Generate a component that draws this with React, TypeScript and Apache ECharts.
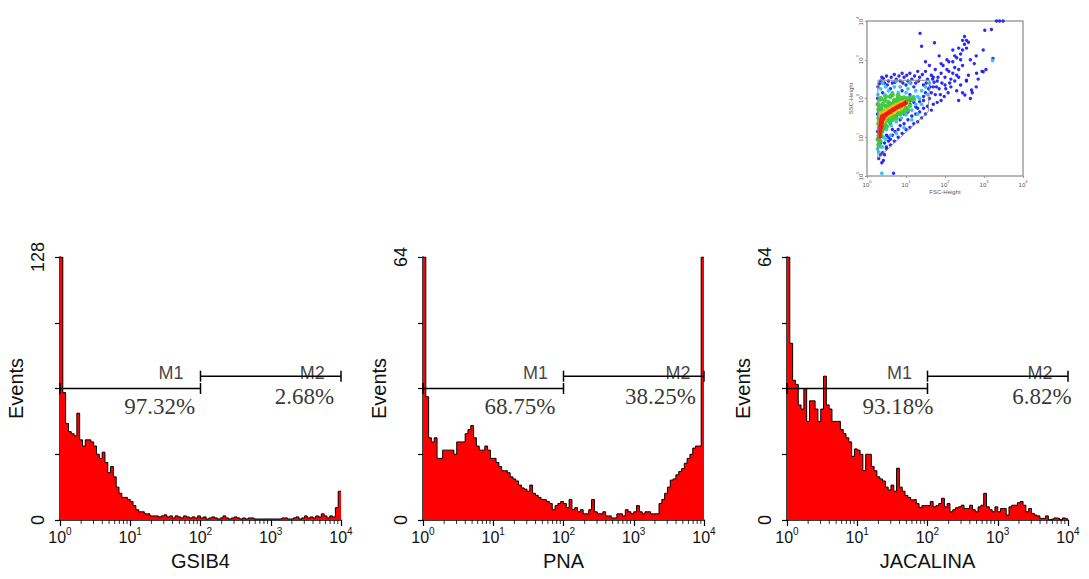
import React, { useEffect, useRef } from "react";
import * as echarts from "echarts";

// ---------- data ----------
const BIN_WIDTH = 0.04; // log10 units per histogram bin (25 bins per decade, 10^0 .. 10^4)
const DECADES = [0, 1, 2, 3, 4];
const MINOR_FACTORS = [2, 3, 4, 5, 6, 7, 8, 9];

const PANEL_NAMES = ["GSIB4", "PNA", "JACALINA"];
const Y_MAX = [128, 64, 64];

const GSIB4_COUNTS = [
  128, 62, 47, 43, 42, 41, 52, 39, 36, 39,
  39, 38, 36, 32, 30, 33, 28, 23, 26, 21,
  16, 13, 11, 11, 10, 9, 7, 5, 4, 4,
  3, 3, 2, 2, 2, 1.5, 2, 2.5, 1.5, 2,
  1, 2, 1.5, 1, 2, 1.5, 1, 1.5, 1, 2,
  1, 1.5, 0.5, 1, 1.5, 1, 0.5, 1, 2, 1,
  0.5, 1, 1.5, 1, 0.5, 1, 0.5, 1, 1, 0.5,
  0.5, 0.5, 0.5, 0.5, 0.5, 0.5, 0.5, 0.5, 0.5, 1,
  1, 0.5, 0.5, 1, 1.5, 0.5, 1, 2, 1, 1.5,
  1, 2, 1.5, 3, 2, 1, 2, 1.5, 6, 14,
];

const PNA_COUNTS = [
  64, 30, 20, 19, 20, 15, 15, 17, 17, 17,
  17, 16, 19, 19, 19, 21, 22, 23, 20, 18,
  17, 17, 18, 17, 15, 15, 14, 13, 12, 12,
  11.5, 10.5, 10, 9.5, 8.5, 7.8, 7.5, 7, 8.5, 6.5,
  6, 5.5, 5, 4.9, 4.5, 4, 2.5, 3.5, 4, 4.5,
  4, 3, 5, 2.5, 3, 2, 2.5, 1.5, 1.5, 2.5,
  5, 2, 1.5, 1.5, 2, 1, 1, 0.5, 0.5, 1.5,
  1.5, 1, 2.5, 2, 1.5, 2, 3.5, 2, 1.5, 2,
  2, 1.5, 1.5, 1.5, 4, 5, 6.5, 8, 9.7, 10,
  11, 11.8, 12.5, 13.8, 15, 16, 17.5, 18, 18, 64,
];

const JACALINA_COUNTS = [
  64, 43, 34, 33, 28, 27, 32, 24, 29, 29,
  27, 24, 27, 35, 28, 27, 24, 24, 24, 22,
  21, 20, 19, 15.5, 17.3, 17, 16, 12, 16, 16,
  13, 12, 10.5, 10, 9.5, 8, 7.3, 8.5, 7, 12.6,
  8, 7, 6, 5.5, 4.9, 5, 4, 3, 3.5, 3.5,
  3.5, 4.5, 3.2, 3.5, 4, 5.3, 3.2, 4, 2, 2.5,
  3, 3.2, 3.6, 2.8, 2.8, 3.6, 2.5, 2, 3.2, 3.6,
  6.5, 3.2, 2.5, 2, 3.2, 2, 2.8, 2.8, 1.2, 3.2,
  3.6, 3.6, 4.2, 4.5, 3.6, 2, 2.8, 1.6, 1.2, 1,
  0.4, 0.4, 1, 0, 0.2, 0.5, 0.4, 0, 0.5, 0.3,
];

const PANEL_COUNTS = [GSIB4_COUNTS, PNA_COUNTS, JACALINA_COUNTS];

// markers (log10 range, level in events)
const M1_RANGE = [0, 2];
const M2_RANGE = [2, 4];
const M1_LEVEL = [64, 32, 32];
const M2_LEVEL = [70, 35, 35];
const M1_PERCENT = ["97.32%", "68.75%", "93.18%"];
const M2_PERCENT = ["2.68%", "38.25%", "6.82%"];

// inset scatter (FSC-Height vs SSC-Height, log10 units)
const GATE_R1 = [
  [0.28, 2.47], [0.28, 0.46], [1.57, 1.66], [1.61, 2.47], [0.28, 2.47],
];
const PTS_BLUE = [
  [0.30, 0.45], [0.35, 0.55], [0.40, 0.60], [0.42, 0.40], [0.38, 0.34], [0.50, 0.75], [0.55, 0.90],
  [0.60, 0.95], [0.65, 1.05], [0.72, 1.15], [0.80, 1.20], [0.85, 1.30], [0.95, 1.35], [1.05, 1.45],
  [1.15, 1.55], [1.25, 1.60], [1.35, 1.65], [1.45, 1.75], [0.45, 0.85], [0.68, 0.07],
  [0.28, 2.30], [0.35, 2.45], [0.45, 2.40], [0.55, 2.45], [0.65, 2.40], [0.75, 2.50], [0.85, 2.45],
  [0.95, 2.55], [1.05, 2.45], [1.15, 2.50], [1.25, 2.40], [1.35, 2.55], [1.45, 2.35], [1.55, 2.50],
  [1.65, 2.60], [1.70, 2.30], [1.80, 2.45], [1.90, 2.65], [2.00, 2.55], [2.10, 2.70], [2.15, 2.50],
  [2.25, 2.80], [2.30, 2.60], [2.40, 3.00], [2.35, 2.75], [2.45, 2.85], [1.75, 2.75], [1.60, 2.85],
  [1.50, 2.95], [1.40, 3.35], [1.85, 3.10], [2.05, 3.00], [2.20, 3.25], [2.50, 3.40], [2.55, 3.30],
  [2.40, 2.35], [2.30, 2.20], [2.55, 2.45], [2.70, 2.15], [2.65, 2.00], [2.80, 2.30], [2.60, 2.60],
  [2.95, 2.70], [3.05, 2.75], [3.02, 3.76], [3.19, 3.78], [3.23, 3.03], [2.98, 3.25], [2.80, 3.10],
  [3.32, 4.0], [3.40, 4.0], [3.49, 4.0], [2.20, 2.95], [1.95, 2.85], [1.70, 2.55], [1.20, 2.30],
  [1.00, 2.35], [0.90, 2.20], [0.60, 2.25], [0.40, 2.15], [1.50, 2.15], [1.60, 2.00], [1.75, 2.10],
  [1.85, 2.25], [2.00, 2.35], [1.90, 1.95], [1.70, 1.85], [1.55, 1.80], [1.45, 1.95], [1.30, 1.75],
  [1.20, 1.90], [1.10, 2.10], [0.95, 1.60], [0.75, 1.55], [0.60, 1.35], [0.50, 1.05], [0.35, 0.85],
  [0.27, 1.15], [0.27, 1.60], [0.27, 2.00], [2.50, 3.60], [2.55, 3.50], [2.35, 3.30], [2.25, 3.10],
  [2.10, 2.95], [2.40, 3.15], [2.81, 2.65], [2.98, 2.69], [2.55, 2.47], [2.68, 2.22], [2.51, 2.09],
  [1.36, 3.68], [1.73, 3.44],
  [0.32, 2.38], [0.42, 2.52], [0.52, 2.35], [0.62, 2.55], [0.72, 2.42], [0.82, 2.58], [0.92, 2.40],
  [1.02, 2.60], [1.12, 2.40], [1.22, 2.58], [1.32, 2.45], [1.42, 2.62], [1.52, 2.40], [1.62, 2.30],
  [1.72, 2.42], [1.82, 2.55], [1.92, 2.40], [2.02, 2.25], [2.12, 2.40], [1.65, 2.15], [1.78, 2.30],
  [1.88, 2.10], [1.98, 2.05], [2.08, 2.15], [1.80, 1.90], [1.65, 1.70], [1.50, 1.60], [1.40, 1.50],
  [1.30, 1.40], [1.20, 1.35], [1.10, 1.25], [1.00, 1.20], [0.90, 1.10], [0.80, 1.00], [0.70, 0.90],
  [0.60, 0.80], [0.50, 0.70], [0.45, 0.55], [0.55, 1.00], [0.65, 1.20], [0.85, 1.45], [1.05, 1.65],
  [1.25, 1.78], [1.35, 1.92], [1.45, 2.05], [1.58, 2.25], [1.68, 2.50], [1.50, 2.70], [1.30, 2.70],
  [1.10, 2.65], [0.90, 2.65], [0.70, 2.62], [0.50, 2.58], [0.38, 2.55], [2.15, 2.30], [2.25, 2.45],
  [2.35, 2.55], [2.20, 2.65], [2.05, 2.75], [1.90, 2.90], [2.30, 3.05], [2.45, 3.25], [2.60, 3.45],
  [2.45, 3.50], [2.65, 3.00], [2.75, 2.90], [2.85, 2.50], [2.45, 2.15], [2.35, 1.95],
];
const PTS_CYAN = [
  [0.27, 0.70], [0.30, 0.62], [0.35, 0.75], [0.42, 1.00], [0.50, 1.20], [0.62, 1.30], [0.75, 1.40],
  [0.88, 1.50], [1.00, 1.58], [1.15, 1.70], [1.25, 1.85], [1.20, 2.05], [1.00, 2.15], [0.80, 2.15],
  [0.55, 2.20], [0.35, 2.25], [0.28, 2.10], [0.48, 2.30], [1.30, 2.05], [1.40, 2.20], [0.70, 2.30],
  [0.38, 0.07], [1.55, 2.10], [1.60, 2.40], [3.22, 2.98],
  [0.32, 1.95], [0.45, 2.10], [0.65, 2.15], [0.85, 2.30], [1.05, 2.25], [1.25, 2.20], [1.35, 2.00],
  [1.40, 1.85], [1.30, 1.60], [1.15, 1.45], [0.95, 1.25], [0.75, 1.10], [0.60, 1.05], [0.48, 0.95],
  [0.40, 0.75], [0.30, 0.92], [1.50, 2.30], [1.10, 2.40], [0.75, 2.45], [0.40, 2.40],
];
const PTS_GREEN = [
  [0.28, 0.95], [0.30, 1.50], [0.32, 1.65], [0.35, 1.78], [0.40, 1.85], [0.48, 1.80], [0.55, 1.90],
  [0.62, 1.85], [0.70, 1.95], [0.78, 1.98], [0.88, 2.00], [0.95, 2.02], [1.05, 2.00], [1.10, 1.95],
  [0.45, 1.35], [0.52, 1.45], [0.60, 1.50], [0.70, 1.55], [0.80, 1.62], [0.90, 1.70], [1.00, 1.75],
  [1.10, 1.82], [0.38, 1.15], [0.42, 1.25], [0.34, 0.90], [0.30, 0.80], [0.45, 1.95], [0.60, 2.05],
  [0.35, 2.00], [0.28, 1.85],
  [0.33, 1.55], [0.38, 1.70], [0.42, 1.62], [0.50, 1.70], [0.58, 1.80], [0.68, 1.88], [0.78, 1.90],
  [0.88, 1.92], [1.00, 1.95], [1.12, 2.02], [0.50, 1.28], [0.58, 1.40], [0.65, 1.45], [0.75, 1.50],
  [0.85, 1.60], [0.95, 1.65], [1.05, 1.70], [0.36, 1.05], [0.40, 1.20], [0.48, 2.05], [0.65, 2.10],
  [0.80, 2.08], [0.30, 1.35], [0.30, 1.72], [1.20, 1.98],
];
const PTS_YELLOW = [
  [0.30, 1.25], [0.31, 1.40], [0.36, 1.62], [0.45, 1.66], [0.55, 1.72], [0.65, 1.78], [0.75, 1.84],
  [0.85, 1.88], [0.98, 1.92], [1.02, 1.90], [0.44, 1.45], [0.55, 1.56], [0.68, 1.64], [0.30, 1.05],
  [0.40, 1.38], [0.34, 1.55], [0.50, 1.70], [0.60, 1.74], [0.70, 1.80], [0.80, 1.84], [0.90, 1.90],
  [0.38, 1.40], [0.47, 1.52], [0.60, 1.60], [0.75, 1.70], [0.88, 1.75],
];
const PTS_RED = [
  [0.32, 1.10], [0.33, 1.20], [0.34, 1.28], [0.35, 1.36], [0.36, 1.44], [0.38, 1.52], [0.33, 1.02],
  [0.40, 1.55], [0.45, 1.56], [0.50, 1.60], [0.55, 1.63], [0.60, 1.66], [0.65, 1.70], [0.70, 1.73],
  [0.75, 1.76], [0.80, 1.79], [0.85, 1.81], [0.90, 1.84], [0.95, 1.86], [0.42, 1.48], [0.37, 1.30],
  [0.34, 1.15], [0.36, 1.25], [0.38, 1.38], [0.48, 1.58], [0.58, 1.66], [0.68, 1.72], [0.78, 1.78],
  [0.88, 1.83], [0.98, 1.88],
];

// ---------- layout / style ----------
const GRID_LEFTS = [60, 423, 787];
const GRID_TOP = 257;
const GRID_W = 281;
const GRID_H = 263;
const SANS = "Liberation Sans, Arial, sans-serif";
const SERIF = "Liberation Serif, Times New Roman, serif";
const TEXT = "#111";
// label anchors (log10 x, fraction of y max)
const M1_TEXT_X = [1.58, 1.6, 1.6];
const M2_TEXT_X = [3.59, 3.63, 3.6];
const M_TEXT_FRAC = 0.56;
const P1_X = [1.42, 1.38, 1.58];
const P2_X = [3.48, 3.38, 3.63];
const P1_FRAC = 0.43;
const P2_FRAC = 0.47;

function decadeRich(big: number, small: number, color: string) {
  return {
    b: { fontSize: big, fontFamily: SANS, color, lineHeight: big + 3, verticalAlign: "bottom" },
    s: { fontSize: small, fontFamily: SANS, color, lineHeight: small + 1, verticalAlign: "top" },
  };
}

function buildOption() {
  const grids: any[] = [];
  const xAxes: any[] = [];
  const yAxes: any[] = [];
  const series: any[] = [];

  const minorTicks: number[][] = [];
  for (let d = 0; d < DECADES.length - 1; d++) {
    for (const k of MINOR_FACTORS) minorTicks.push([DECADES[d] + Math.log10(k), 0]);
  }

  for (let i = 0; i < 3; i++) {
    const ymax = Y_MAX[i];
    grids.push({ left: GRID_LEFTS[i], top: GRID_TOP, width: GRID_W, height: GRID_H, containLabel: false });
    xAxes.push({
      type: "value",
      gridIndex: i,
      min: 0,
      max: 4,
      interval: 1,
      axisLine: { show: true, onZero: false, lineStyle: { color: "#000", width: 1.5 } },
      axisTick: { show: true, length: 6, lineStyle: { color: "#000", width: 1.2 } },
      splitLine: { show: false },
      axisLabel: {
        margin: 6,
        formatter: (v: number) => `{b|10}{s|${Math.round(v)}}`,
        rich: decadeRich(16, 10, TEXT),
      },
      name: PANEL_NAMES[i],
      nameLocation: "middle",
      nameGap: 31,
      nameTextStyle: { fontSize: 20, fontFamily: SANS, color: TEXT },
    });
    yAxes.push({
      type: "value",
      gridIndex: i,
      min: 0,
      max: ymax,
      interval: ymax / 4,
      axisLine: { show: true, lineStyle: { color: "#000", width: 1.5 } },
      axisTick: { show: true, length: 5, lineStyle: { color: "#000", width: 1.2 } },
      splitLine: { show: false },
      axisLabel: {
        rotate: 90,
        margin: 13,
        fontSize: 18,
        fontFamily: SANS,
        color: TEXT,
        formatter: (v: number) => (v === 0 || v === ymax ? String(v) : ""),
      },
      name: "Events",
      nameLocation: "middle",
      nameGap: 34,
      nameTextStyle: { fontSize: 20, fontFamily: SANS, color: TEXT },
    });

    const counts = PANEL_COUNTS[i];
    const histData = counts.map((c, j) => [j * BIN_WIDTH, c]);
    histData.push([4, counts[counts.length - 1]]);
    series.push({
      type: "line",
      xAxisIndex: i,
      yAxisIndex: i,
      data: histData,
      step: "end",
      symbol: "none",
      lineStyle: { color: "#000", width: 1 },
      areaStyle: { color: "#ff0000", opacity: 1 },
      z: 2,
      silent: true,
    });
    series.push({
      type: "scatter",
      xAxisIndex: i,
      yAxisIndex: i,
      data: minorTicks,
      symbol: "rect",
      symbolSize: [1, 4],
      symbolOffset: [0, 2],
      itemStyle: { color: "#000" },
      z: 3,
      silent: true,
    });
    const markerLine = (range: number[], level: number) => ({
      type: "line",
      xAxisIndex: i,
      yAxisIndex: i,
      data: [
        [range[0], level],
        [range[1], level],
      ],
      symbol: "rect",
      symbolSize: [1.5, 11],
      showSymbol: true,
      itemStyle: { color: "#000" },
      lineStyle: { color: "#000", width: 1.5 },
      z: 4,
      silent: true,
    });
    series.push(markerLine(M1_RANGE, M1_LEVEL[i]));
    series.push(markerLine(M2_RANGE, M2_LEVEL[i]));
    const mLabel = { fontFamily: SANS, fontSize: 18, color: TEXT };
    const pLabel = { fontFamily: SERIF, fontSize: 23, color: "#000" };
    series.push({
      type: "scatter",
      xAxisIndex: i,
      yAxisIndex: i,
      symbolSize: 0,
      silent: true,
      z: 5,
      data: [
        { value: [M1_TEXT_X[i], M_TEXT_FRAC * ymax], name: "M1", label: mLabel },
        { value: [M2_TEXT_X[i], M_TEXT_FRAC * ymax], name: "M2", label: mLabel },
        { value: [P1_X[i], P1_FRAC * ymax], name: M1_PERCENT[i], label: pLabel },
        { value: [P2_X[i], P2_FRAC * ymax], name: M2_PERCENT[i], label: pLabel },
      ],
      label: { show: true, position: "inside", formatter: "{b}", color: TEXT },
    });
  }

  // inset dot plot
  const gi = 3;
  grids.push({
    left: 867,
    top: 21,
    width: 156,
    height: 155,
    show: true,
    borderColor: "#a0a0a0",
    borderWidth: 1.5,
    backgroundColor: "transparent",
  });
  xAxes.push({
    type: "value",
    gridIndex: gi,
    min: 0,
    max: 4,
    interval: 1,
    axisLine: { show: false },
    axisTick: { show: true, length: 2, lineStyle: { color: "#999" } },
    splitLine: { show: false },
    axisLabel: { margin: 3, formatter: (v: number) => `{b|10}{s|${Math.round(v)}}`, rich: decadeRich(6, 4, "#555") },
    name: "FSC-Height",
    nameLocation: "middle",
    nameGap: 11,
    nameTextStyle: { fontSize: 6, fontFamily: SANS, color: "#555" },
  });
  yAxes.push({
    type: "value",
    gridIndex: gi,
    min: 0,
    max: 4,
    interval: 1,
    axisLine: { show: false },
    axisTick: { show: true, length: 2, lineStyle: { color: "#999" } },
    splitLine: { show: false },
    axisLabel: { margin: 3, rotate: 90, formatter: (v: number) => `{b|10}{s|${Math.round(v)}}`, rich: decadeRich(6, 4, "#555") },
    name: "SSC-Height",
    nameLocation: "middle",
    nameGap: 11,
    nameTextStyle: { fontSize: 6, fontFamily: SANS, color: "#555" },
  });
  const dots = (pts: number[][], color: string, size: number, z: number) => ({
    type: "scatter",
    xAxisIndex: gi,
    yAxisIndex: gi,
    data: pts,
    symbol: "circle",
    symbolSize: size,
    itemStyle: { color, opacity: 0.95 },
    z,
    silent: true,
  });
  series.push(dots(PTS_BLUE, "#2020f5", 3.4, 2));
  series.push(dots(PTS_CYAN, "#2ec4f0", 3.8, 3));
  series.push(dots(PTS_GREEN, "#3cc83c", 5, 4));
  series.push(dots(PTS_YELLOW, "#f0c000", 4.6, 5));
  series.push(dots(PTS_RED, "#f02010", 4.6, 6));
  series.push({
    type: "line",
    xAxisIndex: gi,
    yAxisIndex: gi,
    data: GATE_R1,
    symbol: "none",
    lineStyle: { color: "#8a8a8a", width: 1 },
    z: 7,
    silent: true,
  });
  series.push({
    type: "scatter",
    xAxisIndex: gi,
    yAxisIndex: gi,
    data: [{ value: [1.05, 1.9], name: "R1" }],
    symbolSize: 0,
    label: { show: true, position: "inside", formatter: "{b}", fontSize: 6, color: "#333", fontFamily: SANS },
    z: 8,
    silent: true,
  });

  return {
    animation: false,
    backgroundColor: "#ffffff",
    grid: grids,
    xAxis: xAxes,
    yAxis: yAxes,
    series,
  };
}

export default function App() {
  const ref = useRef<HTMLDivElement>(null);
  useEffect(() => {
    document.body.style.margin = "0";
    if (!ref.current) return;
    const chart = echarts.init(ref.current, undefined, { renderer: "svg" });
    chart.setOption(buildOption() as any);
    return () => chart.dispose();
  }, []);
  return (
    <div
      ref={ref}
      style={{ position: "absolute", left: 0, top: 0, width: 1089, height: 579, background: "#fff" }}
    />
  );
}
